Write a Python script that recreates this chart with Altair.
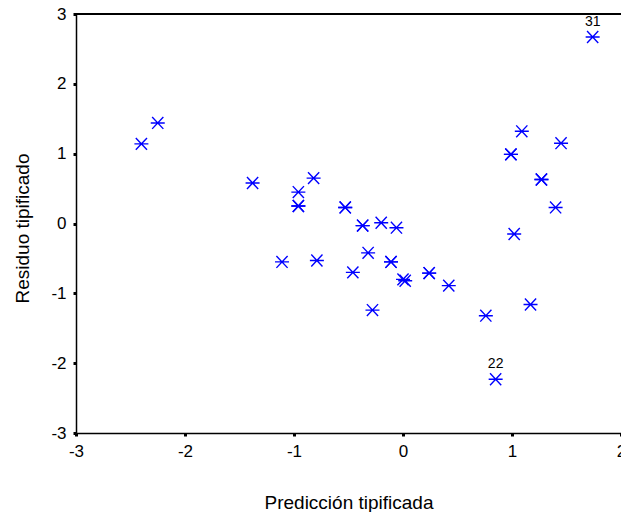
import altair as alt
import pandas as pd

# Standardized predicted value (x) and standardized residual (y)
pred = [-2.40, -2.25, -1.38, -0.96, -0.96, -0.96, -0.82, -1.11, -0.79,
        -0.53, -0.53, -0.37, -0.37, -0.20, -0.06, -0.46, -0.32, -0.28,
        -0.11, -0.11, 0.00, 0.02, 0.24, 0.24, 0.42, 0.76, 0.85, 1.17,
        1.09, 0.99, 0.99, 1.02, 1.27, 1.27, 1.45, 1.40, 1.74]
resid = [1.14, 1.44, 0.58, 0.45, 0.25, 0.25, 0.65, -0.55, -0.53,
         0.23, 0.23, -0.03, -0.03, 0.01, -0.06, -0.70, -0.42, -1.24,
         -0.55, -0.55, -0.80, -0.82, -0.71, -0.71, -0.89, -1.32, -2.23, -1.16,
         1.32, 0.99, 0.99, -0.15, 0.63, 0.63, 1.15, 0.23, 2.67]
labels = [""] * 26 + ["22"] + [""] * 9 + ["31"]

x_ticks = [-3, -2, -1, 0, 1, 2]
y_ticks = [-3, -2, -1, 0, 1, 2, 3]

df = pd.DataFrame({"pred": pred, "resid": resid, "label": labels})

W, H = 545, 419
FONT = "Liberation Sans"
LABEL_EXPR = "datum.value < 0 ? '-' + abs(datum.value) : '' + datum.value"

asterisk = "M-1,0L1,0M-0.8,-0.85L0.8,0.85M-0.8,0.85L0.8,-0.85"

xscale = alt.Scale(domain=[-3, 2], nice=False, zero=False)
yscale = alt.Scale(domain=[-3, 3], nice=False, zero=False)

base = alt.Chart(df)

points = base.mark_point(
    shape=asterisk, size=196, filled=False, color="#0000ff",
    strokeWidth=1.4, opacity=1
).encode(
    x=alt.X("pred:Q", scale=xscale,
            axis=alt.Axis(values=x_ticks, title="Predicción tipificada",
                          labelExpr=LABEL_EXPR,
                          grid=False, labelFlush=False, labelOverlap=False,
                          domainColor="black", domainWidth=1.5,
                          tickColor="black", tickSize=3, tickWidth=3,
                          labelPadding=7, labelFontSize=17, labelFont=FONT,
                          labelColor="black", titleFont=FONT, titleFontSize=19,
                          titleFontWeight="normal", titleColor="black",
                          titleY=75, titleBaseline="alphabetic")),
    y=alt.Y("resid:Q", scale=yscale,
            axis=alt.Axis(values=y_ticks, title="Residuo tipificado",
                          labelExpr=LABEL_EXPR,
                          grid=False, labelOverlap=False, labelFlush=False,
                          domainColor="black", domainWidth=1.5,
                          tickColor="black", tickSize=3, tickWidth=3,
                          labelPadding=7, labelFontSize=17, labelFont=FONT,
                          labelColor="black", titleFont=FONT, titleFontSize=19,
                          titleFontWeight="normal", titleColor="black",
                          titleX=-48, titleY=214, titleAngle=270,
                          titleBaseline="alphabetic")),
)

text = base.transform_filter(alt.datum.label != "").mark_text(
    dy=-15, baseline="middle", align="center", font=FONT, fontSize=14,
    color="black"
).encode(
    x=alt.X("pred:Q", scale=xscale),
    y=alt.Y("resid:Q", scale=yscale),
    text="label:N",
)

top_border = alt.Chart(df).mark_rule(color="black", strokeWidth=1.5).encode(
    x=alt.value(0), x2=alt.value(W), y=alt.value(0)
)

chart = alt.layer(points, text, top_border).properties(
    width=W, height=H,
    autosize=alt.AutoSizeParams(type="none"),
    padding={"left": 76, "top": 14, "right": 0, "bottom": 79},
).configure_view(stroke=None).configure(background="white")

chart.save("out.html", embed_options={"renderer": "svg", "actions": False})
